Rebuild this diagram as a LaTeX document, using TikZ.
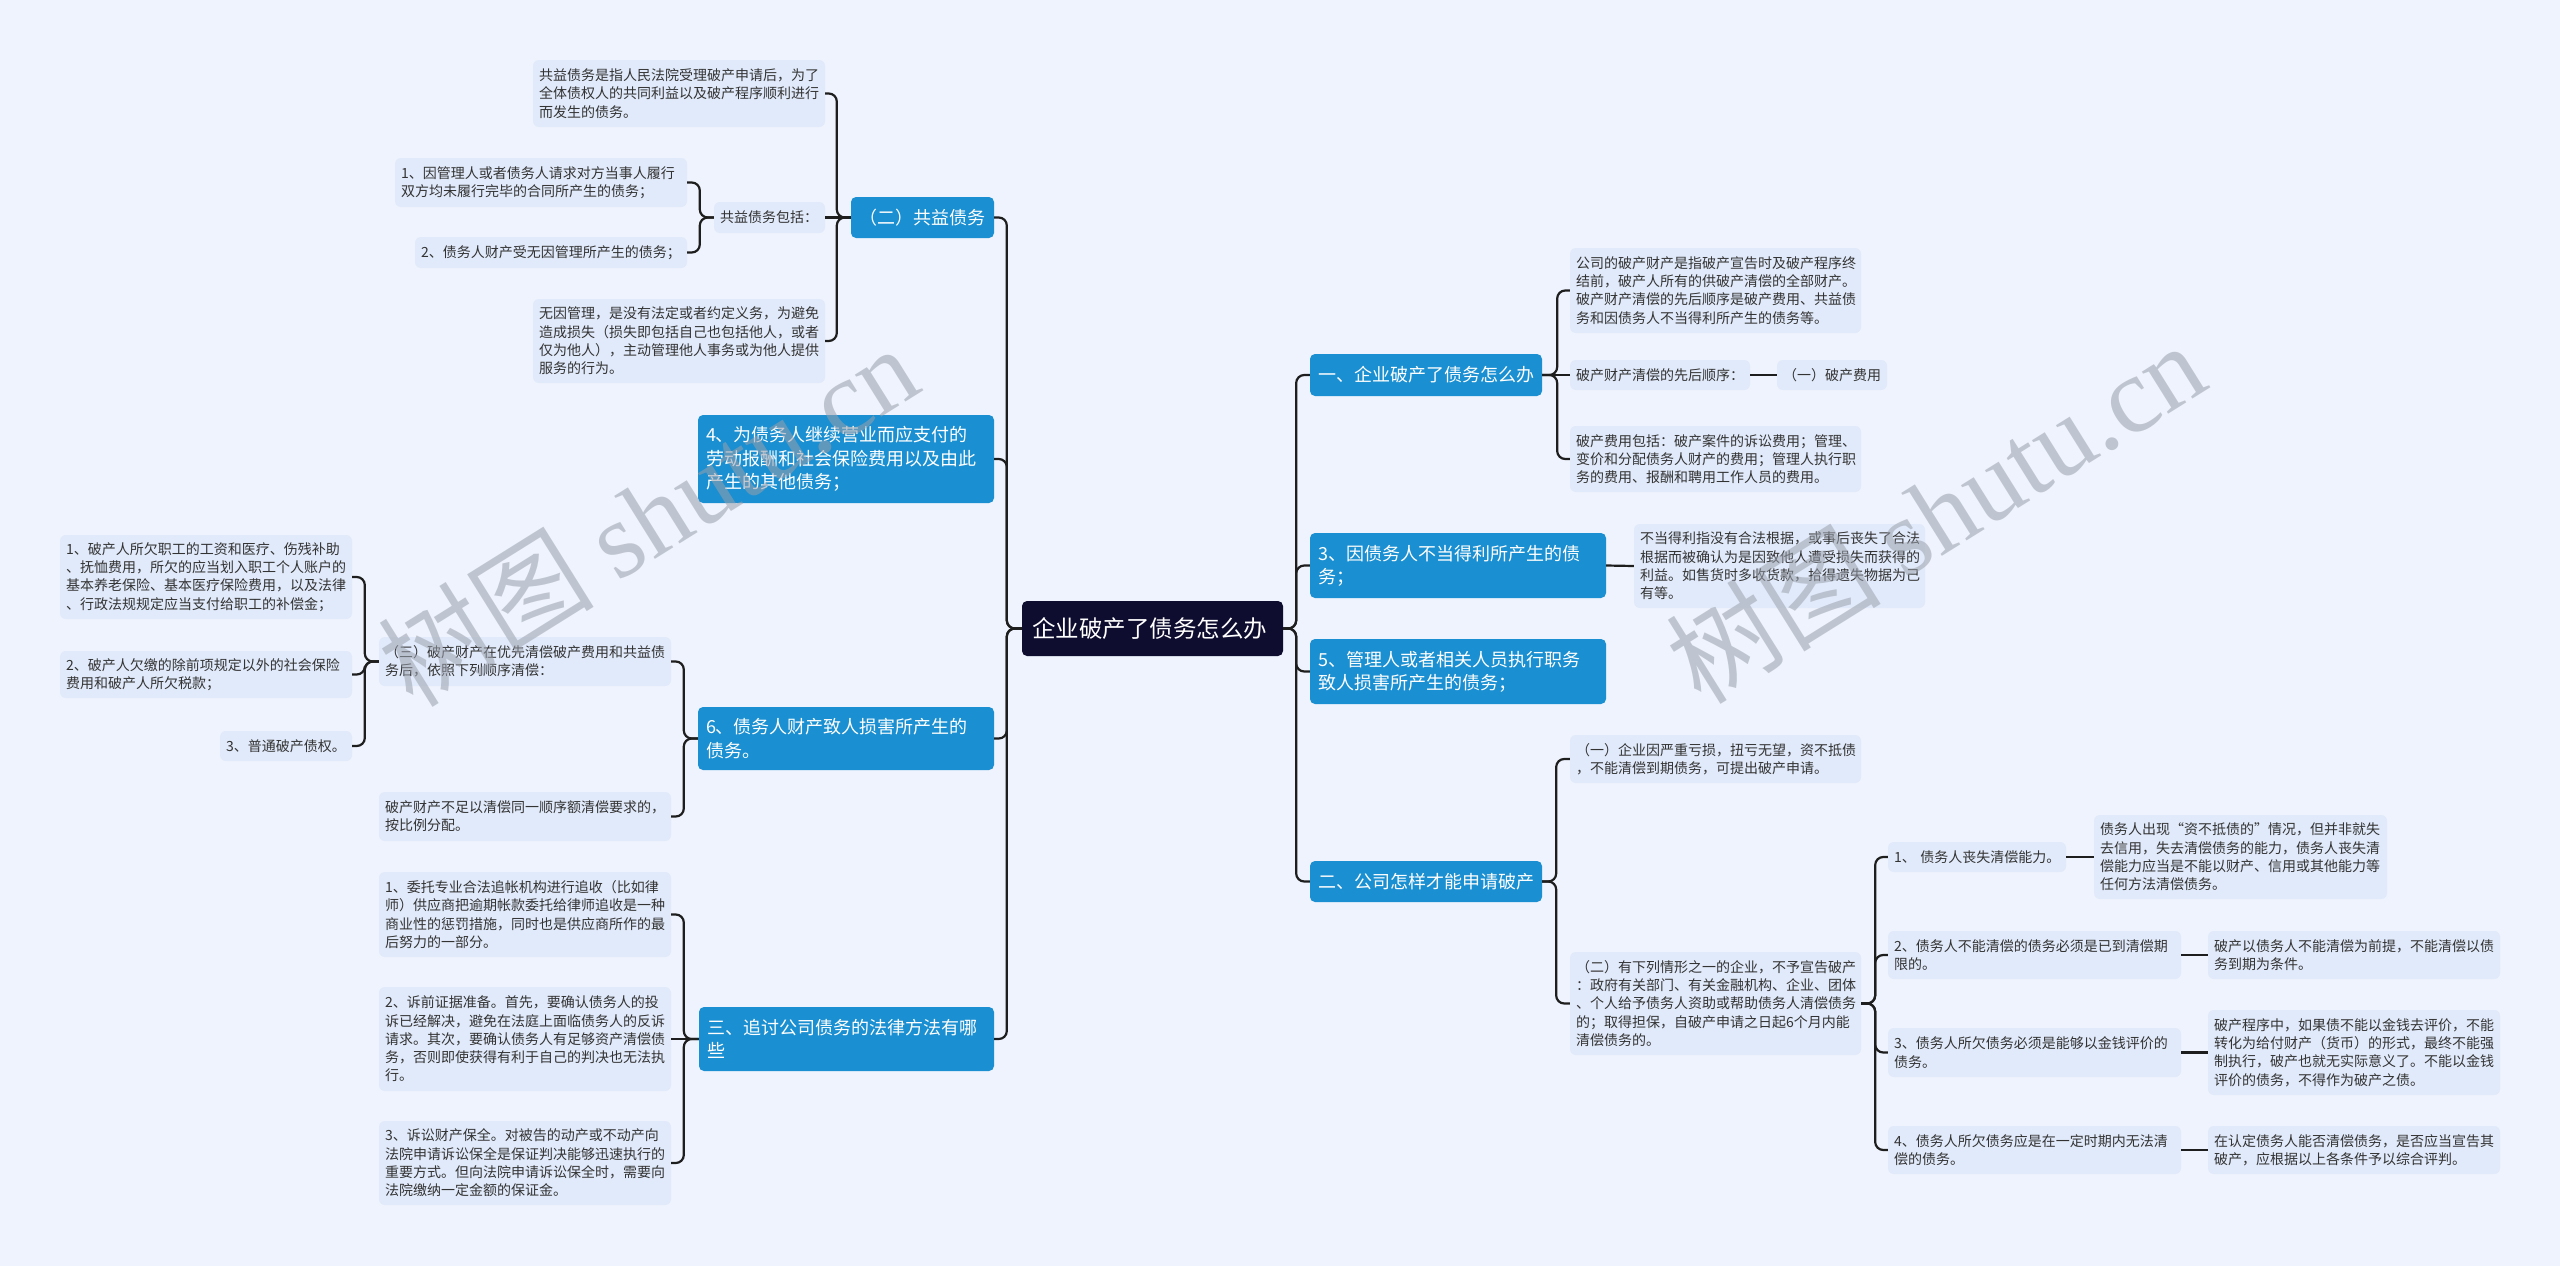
\documentclass[tikz,border=0pt]{standalone}
\usepackage{fontspec}
\setmainfont{Noto Sans CJK SC}
\newfontfamily\wmlatin{Liberation Serif}
\definecolor{bgc}{HTML}{EEF3FD}
\definecolor{leafc}{HTML}{E1EAFA}
\definecolor{branchc}{HTML}{1A8FD1}
\definecolor{rootc}{HTML}{0E0C2F}
\definecolor{linec}{HTML}{1E1E1E}
\definecolor{txtc}{HTML}{333333}
\definecolor{wmc}{HTML}{9AA0AC}
\tikzset{
  leafbox/.style={fill=leafc, rounded corners=6pt, text=txtc, font=\fontsize{14}{18.3}\selectfont, inner xsep=6pt, inner ysep=0pt, align=left},
  branchbox/.style={fill=branchc, rounded corners=5pt, text=white, font=\fontsize{18}{23.3}\selectfont, inner xsep=8pt, inner ysep=0pt, align=left},
  rootbox/.style={fill=rootc, rounded corners=5pt, text=white, font=\fontsize{23.5}{28}\selectfont, inner xsep=10pt, inner ysep=0pt, align=left},
  conn/.style={draw=linec, line width=2.2pt, rounded corners=8pt},
  wmark/.style={text=wmc, opacity=0.55, font=\fontsize{108}{120}\selectfont, inner sep=0pt}
}
% #1 name, #2 style, #3 pad, #4 x1, #5 y1, #6 x2, #7 y2, #8 text
\newcommand{\bx}[8]{%
  \pgfmathsetmacro{\bxw}{#6-#4}%
  \pgfmathsetmacro{\bxh}{#7-#5}%
  \pgfmathsetmacro{\bxcx}{(#4+#6)/2}%
  \pgfmathsetmacro{\bxcy}{(#5+#7)/2}%
  \pgfmathsetmacro{\bxtw}{#6-#4-2*#3}%
  \node[#2, minimum width=\bxw pt, minimum height=\bxh pt, text width=\bxtw pt] (#1) at (\bxcx,\bxcy) {#8};%
}
\newcommand{\elbowL}[3]{\draw[conn] (#1.west) -- ++(-#3,0) |- (#2.east);}
\newcommand{\elbowR}[3]{\draw[conn] (#1.east) -- ++(#3,0) |- (#2.west);}
\begin{document}
\begin{tikzpicture}[x=1pt, y=-1pt]
\fill[bgc] (0,0) rectangle (2560,1266);
\useasboundingbox (0,0) rectangle (2560,1266);

% root
\bx{root}{rootbox}{10}{1022}{601}{1283}{656}{企业破产了债务怎么办}

% ---------- left side ----------
\bx{G}{branchbox}{8}{851}{197}{994}{238}{（二）共益债务}
\bx{A}{leafbox}{6}{533}{60}{825}{127}{共益债务是指人民法院受理破产申请后，为了\\全体债权人的共同利益以及破产程序顺利进行\\而发生的债务。}
\bx{M1}{leafbox}{6}{714}{202}{825}{233}{共益债务包括：}
\bx{B}{leafbox}{6}{395}{158}{687}{207}{1、因管理人或者债务人请求对方当事人履行\\双方均未履行完毕的合同所产生的债务；}
\bx{C}{leafbox}{6}{415}{237}{687}{268}{2、债务人财产受无因管理所产生的债务；}
\bx{D}{leafbox}{6}{533}{299}{825}{383}{无因管理，是没有法定或者约定义务，为避免\\造成损失（损失即包括自己也包括他人，或者\\仅为他人），主动管理他人事务或为他人提供\\服务的行为。}

\bx{B4}{branchbox}{8}{698}{415}{994}{503}{4、为债务人继续营业而应支付的\\劳动报酬和社会保险费用以及由此\\产生的其他债务；}

\bx{B6}{branchbox}{8}{698}{707}{994}{770}{6、债务人财产致人损害所产生的\\债务。}
\bx{M3}{leafbox}{6}{379}{637}{671}{686}{（三）破产财产在优先清偿破产费用和共益债\\务后，依照下列顺序清偿：}
\bx{L1}{leafbox}{6}{60}{535}{352}{619}{1、破产人所欠职工的工资和医疗、伤残补助\\、抚恤费用，所欠的应当划入职工个人账户的\\基本养老保险、基本医疗保险费用，以及法律\\、行政法规规定应当支付给职工的补偿金；}
\bx{L2}{leafbox}{6}{60}{651}{352}{698}{2、破产人欠缴的除前项规定以外的社会保险\\费用和破产人所欠税款；}
\bx{L3}{leafbox}{6}{220}{731}{352}{761}{3、普通破产债权。}
\bx{L4}{leafbox}{6}{379}{792}{671}{841}{破产财产不足以清偿同一顺序额清偿要求的，\\按比例分配。}

\bx{B3}{branchbox}{8}{699}{1007}{994}{1071}{三、追讨公司债务的法律方法有哪\\些}
\bx{T1}{leafbox}{6}{379}{872}{671}{957}{1、委托专业合法追帐机构进行追收（比如律\\师）供应商把逾期帐款委托给律师追收是一种\\商业性的惩罚措施，同时也是供应商所作的最\\后努力的一部分。}
\bx{T2}{leafbox}{6}{379}{987}{671}{1091}{2、诉前证据准备。首先，要确认债务人的投\\诉已经解决，避免在法庭上面临债务人的反诉\\请求。其次，要确认债务人有足够资产清偿债\\务，否则即使获得有利于自己的判决也无法执\\行。}
\bx{T3}{leafbox}{6}{379}{1121}{671}{1205}{3、诉讼财产保全。对被告的动产或不动产向\\法院申请诉讼保全是保证判决能够迅速执行的\\重要方式。但向法院申请诉讼保全时，需要向\\法院缴纳一定金额的保证金。}

% ---------- right side ----------
\bx{R1}{branchbox}{8}{1310}{354}{1542}{396}{一、企业破产了债务怎么办}
\bx{P1}{leafbox}{6}{1570}{248}{1861}{333}{公司的破产财产是指破产宣告时及破产程序终\\结前，破产人所有的供破产清偿的全部财产。\\破产财产清偿的先后顺序是破产费用、共益债\\务和因债务人不当得利所产生的债务等。}
\bx{P2}{leafbox}{6}{1570}{360}{1750}{390}{破产财产清偿的先后顺序：}
\bx{P2b}{leafbox}{6}{1777}{360}{1887}{390}{（一）破产费用}
\bx{P3}{leafbox}{6}{1570}{426}{1861}{492}{破产费用包括：破产案件的诉讼费用；管理、\\变价和分配债务人财产的费用；管理人执行职\\务的费用、报酬和聘用工作人员的费用。}

\bx{R3}{branchbox}{8}{1310}{533}{1606}{598}{3、因债务人不当得利所产生的债\\务；}
\bx{Q1}{leafbox}{6}{1634}{524}{1925}{608}{不当得利指没有合法根据，或事后丧失了合法\\根据而被确认为是因致他人遭受损失而获得的\\利益。如售货时多收货款，拾得遗失物据为己\\有等。}

\bx{R5}{branchbox}{8}{1310}{639}{1606}{704}{5、管理人或者相关人员执行职务\\致人损害所产生的债务；}

\bx{R2}{branchbox}{8}{1310}{861}{1542}{902}{二、公司怎样才能申请破产}
\bx{S1}{leafbox}{6}{1570}{735}{1861}{783}{（一）企业因严重亏损，扭亏无望，资不抵债\\，不能清偿到期债务，可提出破产申请。}
\bx{S2}{leafbox}{6}{1570}{952}{1861}{1055}{（二）有下列情形之一的企业，不予宣告破产\\：政府有关部门、有关金融机构、企业、团体\\、个人给予债务人资助或帮助债务人清偿债务\\的；取得担保，自破产申请之日起6个月内能\\清偿债务的。}
\bx{U1}{leafbox}{6}{1888}{842}{2066}{872}{\mbox{1、 债务人丧失清偿能力。}}
\bx{V1}{leafbox}{6}{2094}{815}{2387}{899}{债务人出现“资不抵债的”情况，但并非就失\\去信用，失去清偿债务的能力，债务人丧失清\\偿能力应当是不能以财产、信用或其他能力等\\任何方法清偿债务。}
\bx{U2}{leafbox}{6}{1888}{931}{2181}{979}{2、债务人不能清偿的债务必须是已到清偿期\\限的。}
\bx{V2}{leafbox}{6}{2208}{931}{2500}{979}{破产以债务人不能清偿为前提，不能清偿以债\\务到期为条件。}
\bx{U3}{leafbox}{6}{1888}{1028}{2181}{1077}{3、债务人所欠债务必须是能够以金钱评价的\\债务。}
\bx{V3}{leafbox}{6}{2208}{1010}{2500}{1095}{破产程序中，如果债不能以金钱去评价，不能\\转化为给付财产（货币）的形式，最终不能强\\制执行，破产也就无实际意义了。不能以金钱\\评价的债务，不得作为破产之债。}
\bx{U4}{leafbox}{6}{1888}{1126}{2181}{1174}{4、债务人所欠债务应是在一定时期内无法清\\偿的债务。}
\bx{V4}{leafbox}{6}{2208}{1126}{2500}{1174}{在认定债务人能否清偿债务，是否应当宣告其\\破产，应根据以上各条件予以综合评判。}

% ---------- connectors ----------
\elbowL{root}{G}{15}
\elbowL{root}{B4}{15}
\elbowL{root}{B6}{15}
\elbowL{root}{B3}{15}
\elbowR{root}{R1}{13}
\elbowR{root}{R3}{13}
\elbowR{root}{R5}{13}
\elbowR{root}{R2}{13}

\elbowL{G}{A}{14}
\draw[conn] (G.west) -- (M1.east);
\elbowL{G}{D}{14}
\elbowL{M1}{B}{14}
\elbowL{M1}{C}{14}

\elbowL{B6}{M3}{14}
\elbowL{B6}{L4}{14}
\elbowL{M3}{L1}{14}
\elbowL{M3}{L2}{14}
\elbowL{M3}{L3}{14}

\elbowL{B3}{T1}{15}
\draw[conn] (B3.west) -- (T2.east);
\elbowL{B3}{T3}{15}

\elbowR{R1}{P1}{15}
\draw[conn] (R1.east) -- (P2.west);
\elbowR{R1}{P3}{15}
\draw[conn] (P2.east) -- (P2b.west);
\draw[conn] (R3.east) -- (Q1.west);

\elbowR{R2}{S1}{14}
\elbowR{R2}{S2}{14}
\elbowR{S2}{U1}{14}
\elbowR{S2}{U2}{14}
\elbowR{S2}{U3}{14}
\elbowR{S2}{U4}{14}
\draw[conn] (U1.east) -- (V1.west);
\draw[conn] (U2.east) -- (V2.west);
\draw[conn] (U3.east) -- (V3.west);
\draw[conn] (U4.east) -- (V4.west);

% ---------- watermarks ----------
\node[wmark, rotate=32] (wm1) at (648,515) {树图 {\wmlatin shutu.cn}};
\node[wmark, rotate=32] (wm2) at (1935,512) {树图 {\wmlatin shutu.cn}};
\end{tikzpicture}
\end{document}
